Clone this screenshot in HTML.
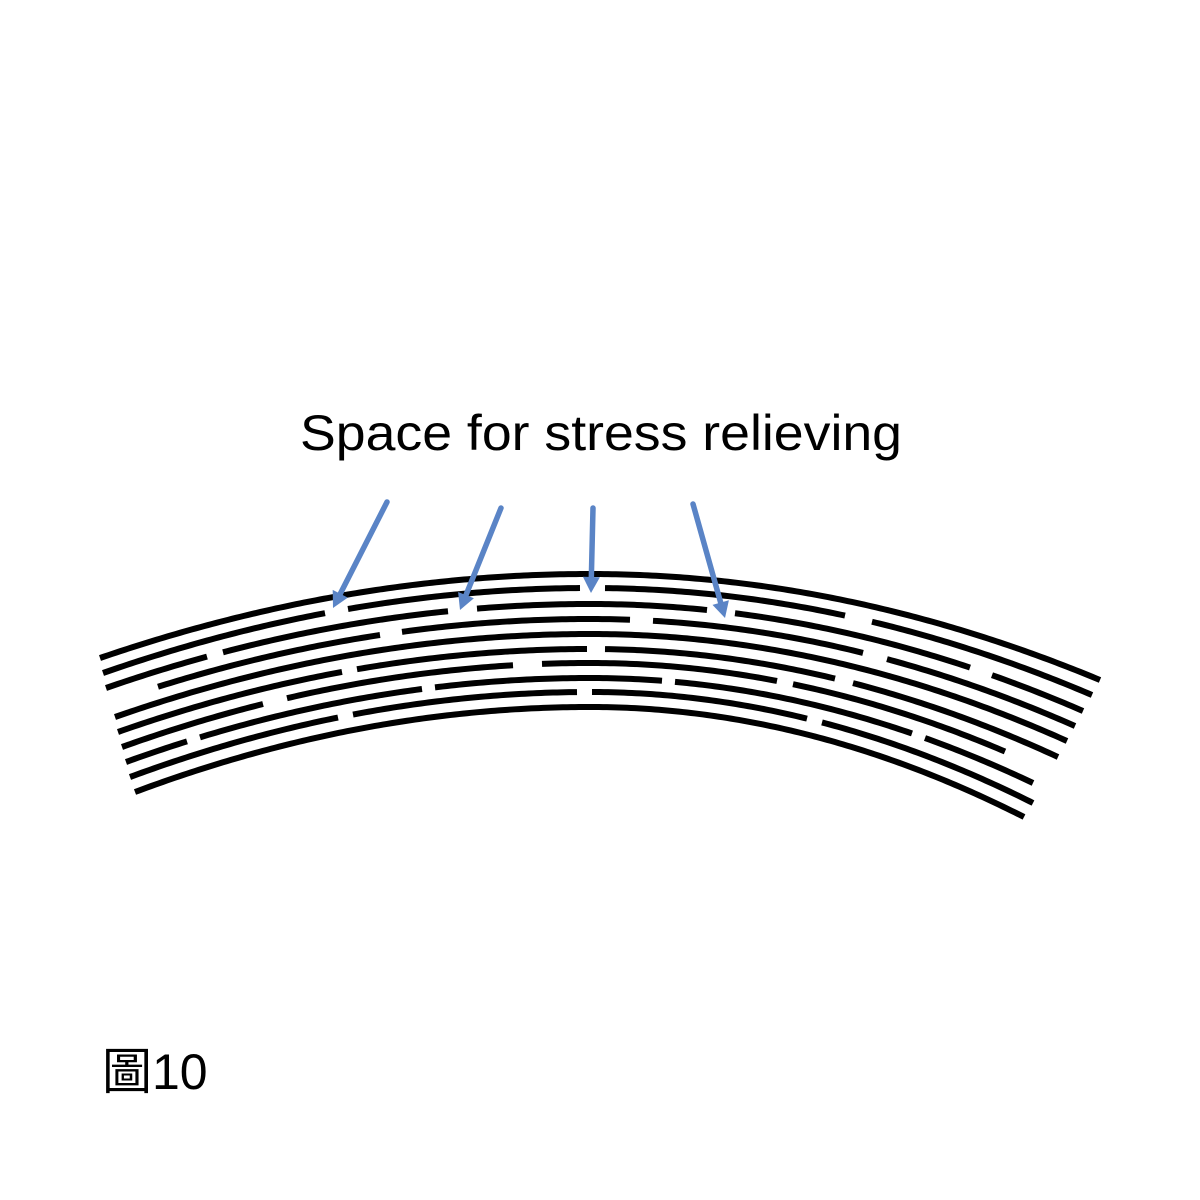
<!DOCTYPE html>
<html><head><meta charset="utf-8"><style>html,body{margin:0;padding:0;background:#fff}svg{display:block}</style></head>
<body>
<svg id="s" width="1200" height="1200" viewBox="0 0 1200 1200" xmlns="http://www.w3.org/2000/svg">
<rect width="1200" height="1200" fill="#fff"/>
<text x="300" y="450" font-family="Liberation Sans, sans-serif" font-size="50" textLength="602" lengthAdjust="spacingAndGlyphs" fill="#000">Space for stress relieving</text>
<text x="102" y="1089" font-family="'Liberation Sans','Noto Sans CJK TC',sans-serif" font-size="50" fill="#000">圖10</text>
<g id="lines" fill="none" stroke="#000" stroke-width="6"></g>
<g id="arrows" stroke="#5a84c6" fill="#5a84c6" stroke-width="5.5" stroke-linecap="round"></g>
</svg>
<script>
var A=590;
var L=[
 {m:574,l:[100,658],r:[1100,680],g:[]},
 {m:588,l:[103,673],r:[1092,695],g:[[325,348],[580,605],[845,872]]},
 {m:604,l:[106,688],r:[1083,711],g:[[207,223],[448,477],[707,735],[970,992]]},
 {m:619,l:[158,null],r:[1075,726],g:[[380,402],[630,653],[863,887]]},
 {m:634,l:[115,717],r:[1067,741],g:[]},
 {m:649,l:[118,732],r:[1058,757],g:[[342,357],[587,605],[835,853]]},
 {m:663,l:[122,747],r:[1005,null],g:[[263,287],[513,542],[777,793]]},
 {m:678,l:[126,762],r:[1033,783],g:[[187,200],[422,435],[662,675],[912,925]]},
 {m:692,l:[130,777],r:[1033,803],g:[[338,353],[577,592],[807,822]]},
 {m:707,l:[135,792],r:[1024,817],g:[]}
];
L.forEach(function(o){ if(o.l[1]!==null) o.kL=(o.l[1]-o.m)/Math.pow(A-o.l[0],2); if(o.r[1]!==null) o.kR=(o.r[1]-o.m)/Math.pow(o.r[0]-A,2);});
L[3].kL=(L[2].kL+L[4].kL)/2; L[6].kR=(L[5].kR+L[7].kR)/2;
function y(o,x){var d=x-A;return o.m+(d<0?o.kL:o.kR)*d*d;}
var g=document.getElementById('lines'),h='';
L.forEach(function(o){
 var segs=[],s=o.l[0];
 o.g.forEach(function(q){segs.push([s,q[0]]);s=q[1];});
 segs.push([s,o.r[0]]);
 segs.forEach(function(sg){
  var p='M'+sg[0]+' '+y(o,sg[0]).toFixed(2);
  for(var x=sg[0]+4;x<sg[1];x+=4)p+=' L'+x+' '+y(o,x).toFixed(2);
  p+=' L'+sg[1]+' '+y(o,sg[1]).toFixed(2);
  h+='<path d="'+p+'"/>';
 });
});
g.innerHTML=h;
var ar=[[387,502,333,608],[501,508,460,610],[593,508,591,593],[693,504,725,618]],ah='';
ar.forEach(function(a){
 var dx=a[2]-a[0],dy=a[3]-a[1],len=Math.sqrt(dx*dx+dy*dy),ux=dx/len,uy=dy/len,px=-uy,py=ux;
 var hl=16,hw=8.5,bx=a[2]-ux*hl,by=a[3]-uy*hl;
 ah+='<line x1="'+a[0]+'" y1="'+a[1]+'" x2="'+(bx+ux*2).toFixed(1)+'" y2="'+(by+uy*2).toFixed(1)+'"/>';
 ah+='<polygon stroke="none" points="'+a[2]+','+a[3]+' '+(bx+px*hw).toFixed(1)+','+(by+py*hw).toFixed(1)+' '+(bx-px*hw).toFixed(1)+','+(by-py*hw).toFixed(1)+'"/>';
});
document.getElementById('arrows').innerHTML=ah;
</script>
</body></html>
